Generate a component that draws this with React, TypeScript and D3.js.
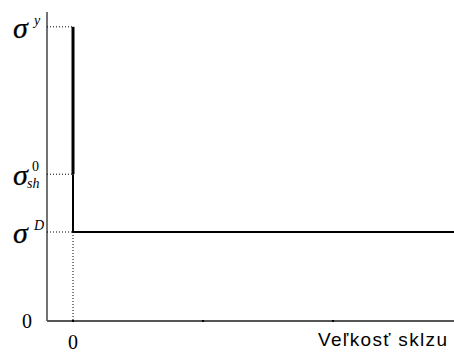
import React from "react";
import * as d3 from "d3";

const W = 454;
const H = 353;

// stress levels (arbitrary units, y axis 0..100)
const levelNames = ["sigmaY", "sigmaSh0", "sigmaD"];
const levelValues = [95.2, 47.5, 28.8];
// slip size (x) ticks
const xTicks = [0, 1, 2];
const xMax = 2.93;
const xMin = -0.2;
const xLabel = "Veľkosť sklzu";

const yScale = d3.scaleLinear().domain([0, 100]).range([321, 12]);
const xScale = d3.scaleLinear().domain([xMin, xMax]).range([47, 454]);

export default function App() {
  const [sY, sSh, sD] = levelValues;
  const x0 = xScale(0);
  const thick = d3.line<[number, number]>().x((d) => xScale(d[0])).y((d) => yScale(d[1]));
  const upper: [number, number][] = [
    [0, sY],
    [0, sSh],
  ];
  const lower: [number, number][] = [
    [0, sSh],
    [0, sD],
    [xMax, sD],
  ];
  const serif = "'Liberation Serif', 'Times New Roman', serif";
  const labelBase = (v: number) => yScale(v) + 11;
  const sig = { fontSize: 30, fontStyle: "italic", stroke: "#000", strokeWidth: 0.25 } as const;
  return (
    <svg
      width={W}
      height={H}
      style={{ position: "absolute", left: 0, top: 0, background: "#fff" }}
    >
      {/* axes */}
      <line x1={xScale(xMin)} x2={xScale(xMin)} y1={yScale(100)} y2={yScale(0)} stroke="#444" strokeWidth={1.5} />
      <line x1={xScale(xMin)} x2={W} y1={yScale(0)} y2={yScale(0)} stroke="#555" strokeWidth={2} />
      {xTicks.map((t) => (
        <rect key={t} x={xScale(t) - 1} y={yScale(0) - 1} width={2} height={2} fill="#000" />
      ))}
      {/* dotted guides */}
      {levelValues.map((v, i) => (
        <line
          key={levelNames[i]}
          x1={xScale(xMin)}
          x2={x0}
          y1={yScale(v)}
          y2={yScale(v)}
          stroke="#000"
          strokeWidth={1}
          strokeDasharray="1,2"
        />
      ))}
      <line x1={x0} x2={x0} y1={yScale(sD)} y2={yScale(0)} stroke="#000" strokeWidth={1} strokeDasharray="1,2" />
      {/* curve */}
      <path d={thick(upper) || ""} fill="none" stroke="#000" strokeWidth={3} />
      <path d={thick(lower) || ""} fill="none" stroke="#000" strokeWidth={2} strokeLinejoin="miter" />
      {/* y labels */}
      <g fontFamily={serif} fill="#000">
        <text x={13} y={labelBase(sY)} {...sig}>σ</text>
        <text x={34} y={labelBase(sY) - 13} fontSize={14} fontStyle="italic">y</text>

        <text x={13} y={labelBase(sSh)} {...sig}>σ</text>
        <text x={32} y={labelBase(sSh) - 14} fontSize={14}>0</text>
        <text x={27} y={labelBase(sSh) + 3} fontSize={14} fontStyle="italic">sh</text>

        <text x={13} y={labelBase(sD)} {...sig}>σ</text>
        <text x={34} y={labelBase(sD) - 13} fontSize={14} fontStyle="italic">D</text>

        <text x={27} y={328} fontSize={20} textAnchor="middle">0</text>
        <text x={x0} y={349} fontSize={20} textAnchor="middle">0</text>
      </g>
      <text
        x={318}
        y={346}
        fontFamily="'Liberation Sans', Arial, sans-serif"
        fontSize={19}
        textLength={129}
        lengthAdjust="spacing"
        fill="#000"
      >
        {xLabel}
      </text>
    </svg>
  );
}
